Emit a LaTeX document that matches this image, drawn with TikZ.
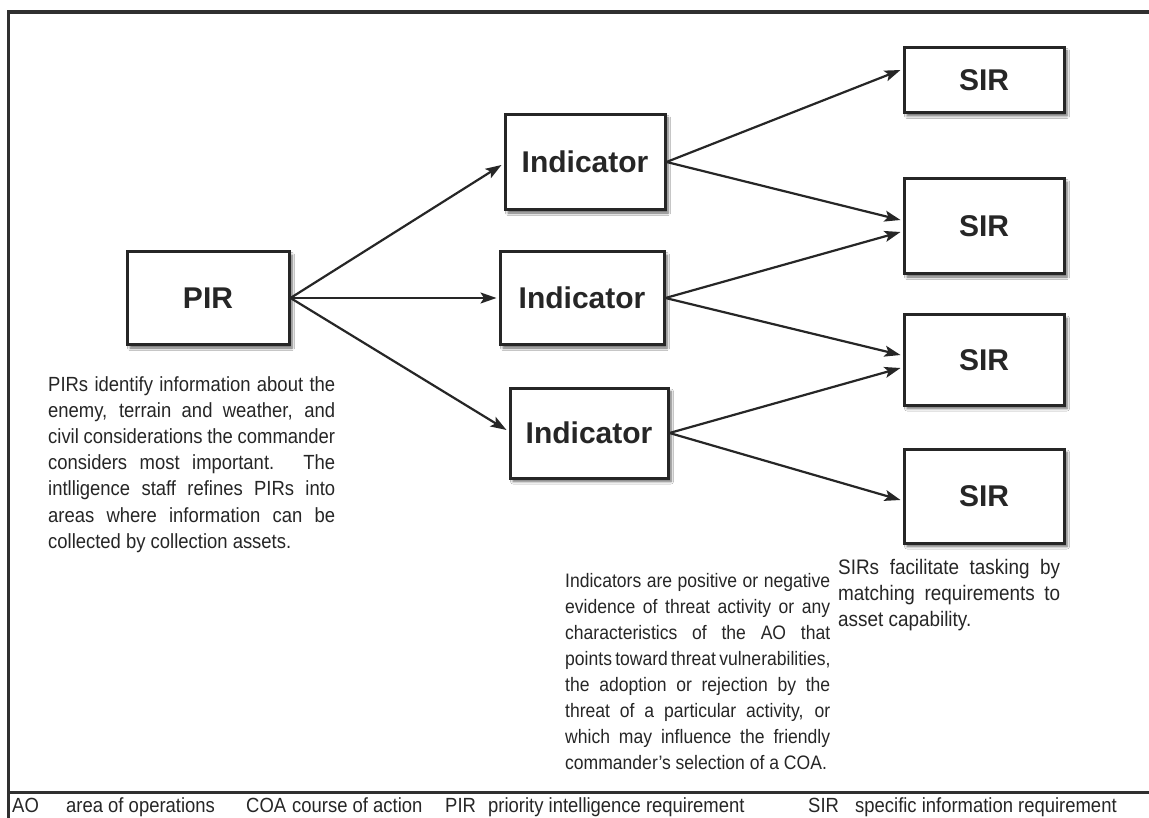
\documentclass[tikz,border=0pt]{standalone}
\usepackage{fontspec}
\setmainfont{Liberation Sans}[FakeStretch=0.9]
\newfontfamily\labelfont{Liberation Sans}
\usetikzlibrary{arrows.meta,calc,shadows.blur}
\definecolor{ink}{HTML}{262626}
\definecolor{framecol}{HTML}{303030}
\newcommand{\jline}[2]{\makebox[#1][s]{#2}}
\begin{document}
\begin{tikzpicture}[x=1pt,y=-1pt,
  box/.style={draw=ink, line width=3pt, fill=white, text=ink,
    font=\labelfont\fontsize{30}{32}\selectfont\bfseries, inner sep=0pt,
    blur shadow={shadow xshift=3pt, shadow yshift=-3.5pt, shadow blur steps=6,
      shadow blur radius=2.5pt, shadow opacity=60}},
  link/.style={draw=ink, line width=2.2pt, -{Stealth[length=16pt,width=11pt,inset=3.5pt]}},
  body/.style={anchor=north west, inner sep=0pt, text=ink, align=left,
    font=\fontsize{20.5}{26.2}\selectfont},
  gloss/.style={anchor=base west, inner sep=0pt, text=ink,
    font=\fontsize{20.5}{22}\selectfont}]
\useasboundingbox (0,0) rectangle (1149,818);
\fill[white] (0,0) rectangle (1149,818);

% frame of the panel and the rule above the glossary
\draw[framecol, line width=3.5pt] (8.5,818) -- (8.5,12) -- (1149,12);
\draw[framecol, line width=3pt] (8.5,792) -- (1149,792);

% boxes
\node[box, minimum width=162pt, minimum height=93pt] (pir) at (208,298) {PIR};
\node[box, minimum width=160pt, minimum height=95pt] (ind1) at (585,162) {Indicator};
\node[box, minimum width=164pt, minimum height=93pt] (ind2) at (582,298) {Indicator};
\node[box, minimum width=158pt, minimum height=90pt] (ind3) at (589,433) {Indicator};
\node[box, minimum width=160pt, minimum height=65pt] (sir1) at (984,80) {SIR};
\node[box, minimum width=160pt, minimum height=95pt] (sir2) at (984,226) {SIR};
\node[box, minimum width=160pt, minimum height=90pt] (sir3) at (984,360) {SIR};
\node[box, minimum width=160pt, minimum height=94pt] (sir4) at (984,496) {SIR};

% connectors
\draw[link] (pir.east) -- ($(ind1.west)+(-2,3)$);
\draw[link] (pir.east) -- ($(ind2.west)+(-2,0)$);
\draw[link] (pir.east) -- ($(ind3.west)+(-2,-3)$);
\draw[link] (ind1.east) -- ($(sir1.west)+(-2,-10)$);
\draw[link] (ind1.east) -- ($(sir2.west)+(-2,-6)$);
\draw[link] (ind2.east) -- ($(sir2.west)+(-2,6)$);
\draw[link] (ind2.east) -- ($(sir3.west)+(-2,-5)$);
\draw[link] (ind3.east) -- ($(sir3.west)+(-2,8)$);
\draw[link] (ind3.east) -- ($(sir4.west)+(-2,4)$);

% explanatory notes
\node[body] (pirnote) at (48,376) {%
\jline{287pt}{PIRs identify information about the}\\
\jline{287pt}{enemy, terrain and weather, and}\\
\jline{287pt}{civil considerations the commander}\\
\jline{287pt}{considers most important. The}\\
\jline{287pt}{intlligence staff refines PIRs into}\\
\jline{287pt}{areas where information can be}\\
collected by collection assets.};

\node[body, font=\fontsize{19.5}{26}\selectfont] (indnote) at (565,573) {%
\jline{265pt}{Indicators are positive or negative}\\
\jline{265pt}{evidence of threat activity or any}\\
\jline{265pt}{characteristics of the AO that}\\
\jline{265pt}{points toward threat vulnerabilities,}\\
\jline{265pt}{the adoption or rejection by the}\\
\jline{265pt}{threat of a particular activity, or}\\
\jline{265pt}{which may influence the friendly}\\
commander’s selection of a COA.};

\node[body, font=\fontsize{21}{26.2}\selectfont] (sirnote) at (838,559) {%
\jline{222pt}{SIRs facilitate tasking by}\\
\jline{222pt}{matching requirements to}\\
asset capability.};

% glossary
\node[gloss] (g1) at (12,812) {AO};
\node[gloss] (g2) at (66,812) {area of operations};
\node[gloss] (g3) at (246,812) {COA};
\node[gloss] (g4) at (292,812) {course of action};
\node[gloss] (g5) at (445,812) {PIR};
\node[gloss] (g6) at (488,812) {priority intelligence requirement};
\node[gloss] (g7) at (808,812) {SIR};
\node[gloss] (g8) at (855,812) {specific information requirement};
\end{tikzpicture}
\end{document}
